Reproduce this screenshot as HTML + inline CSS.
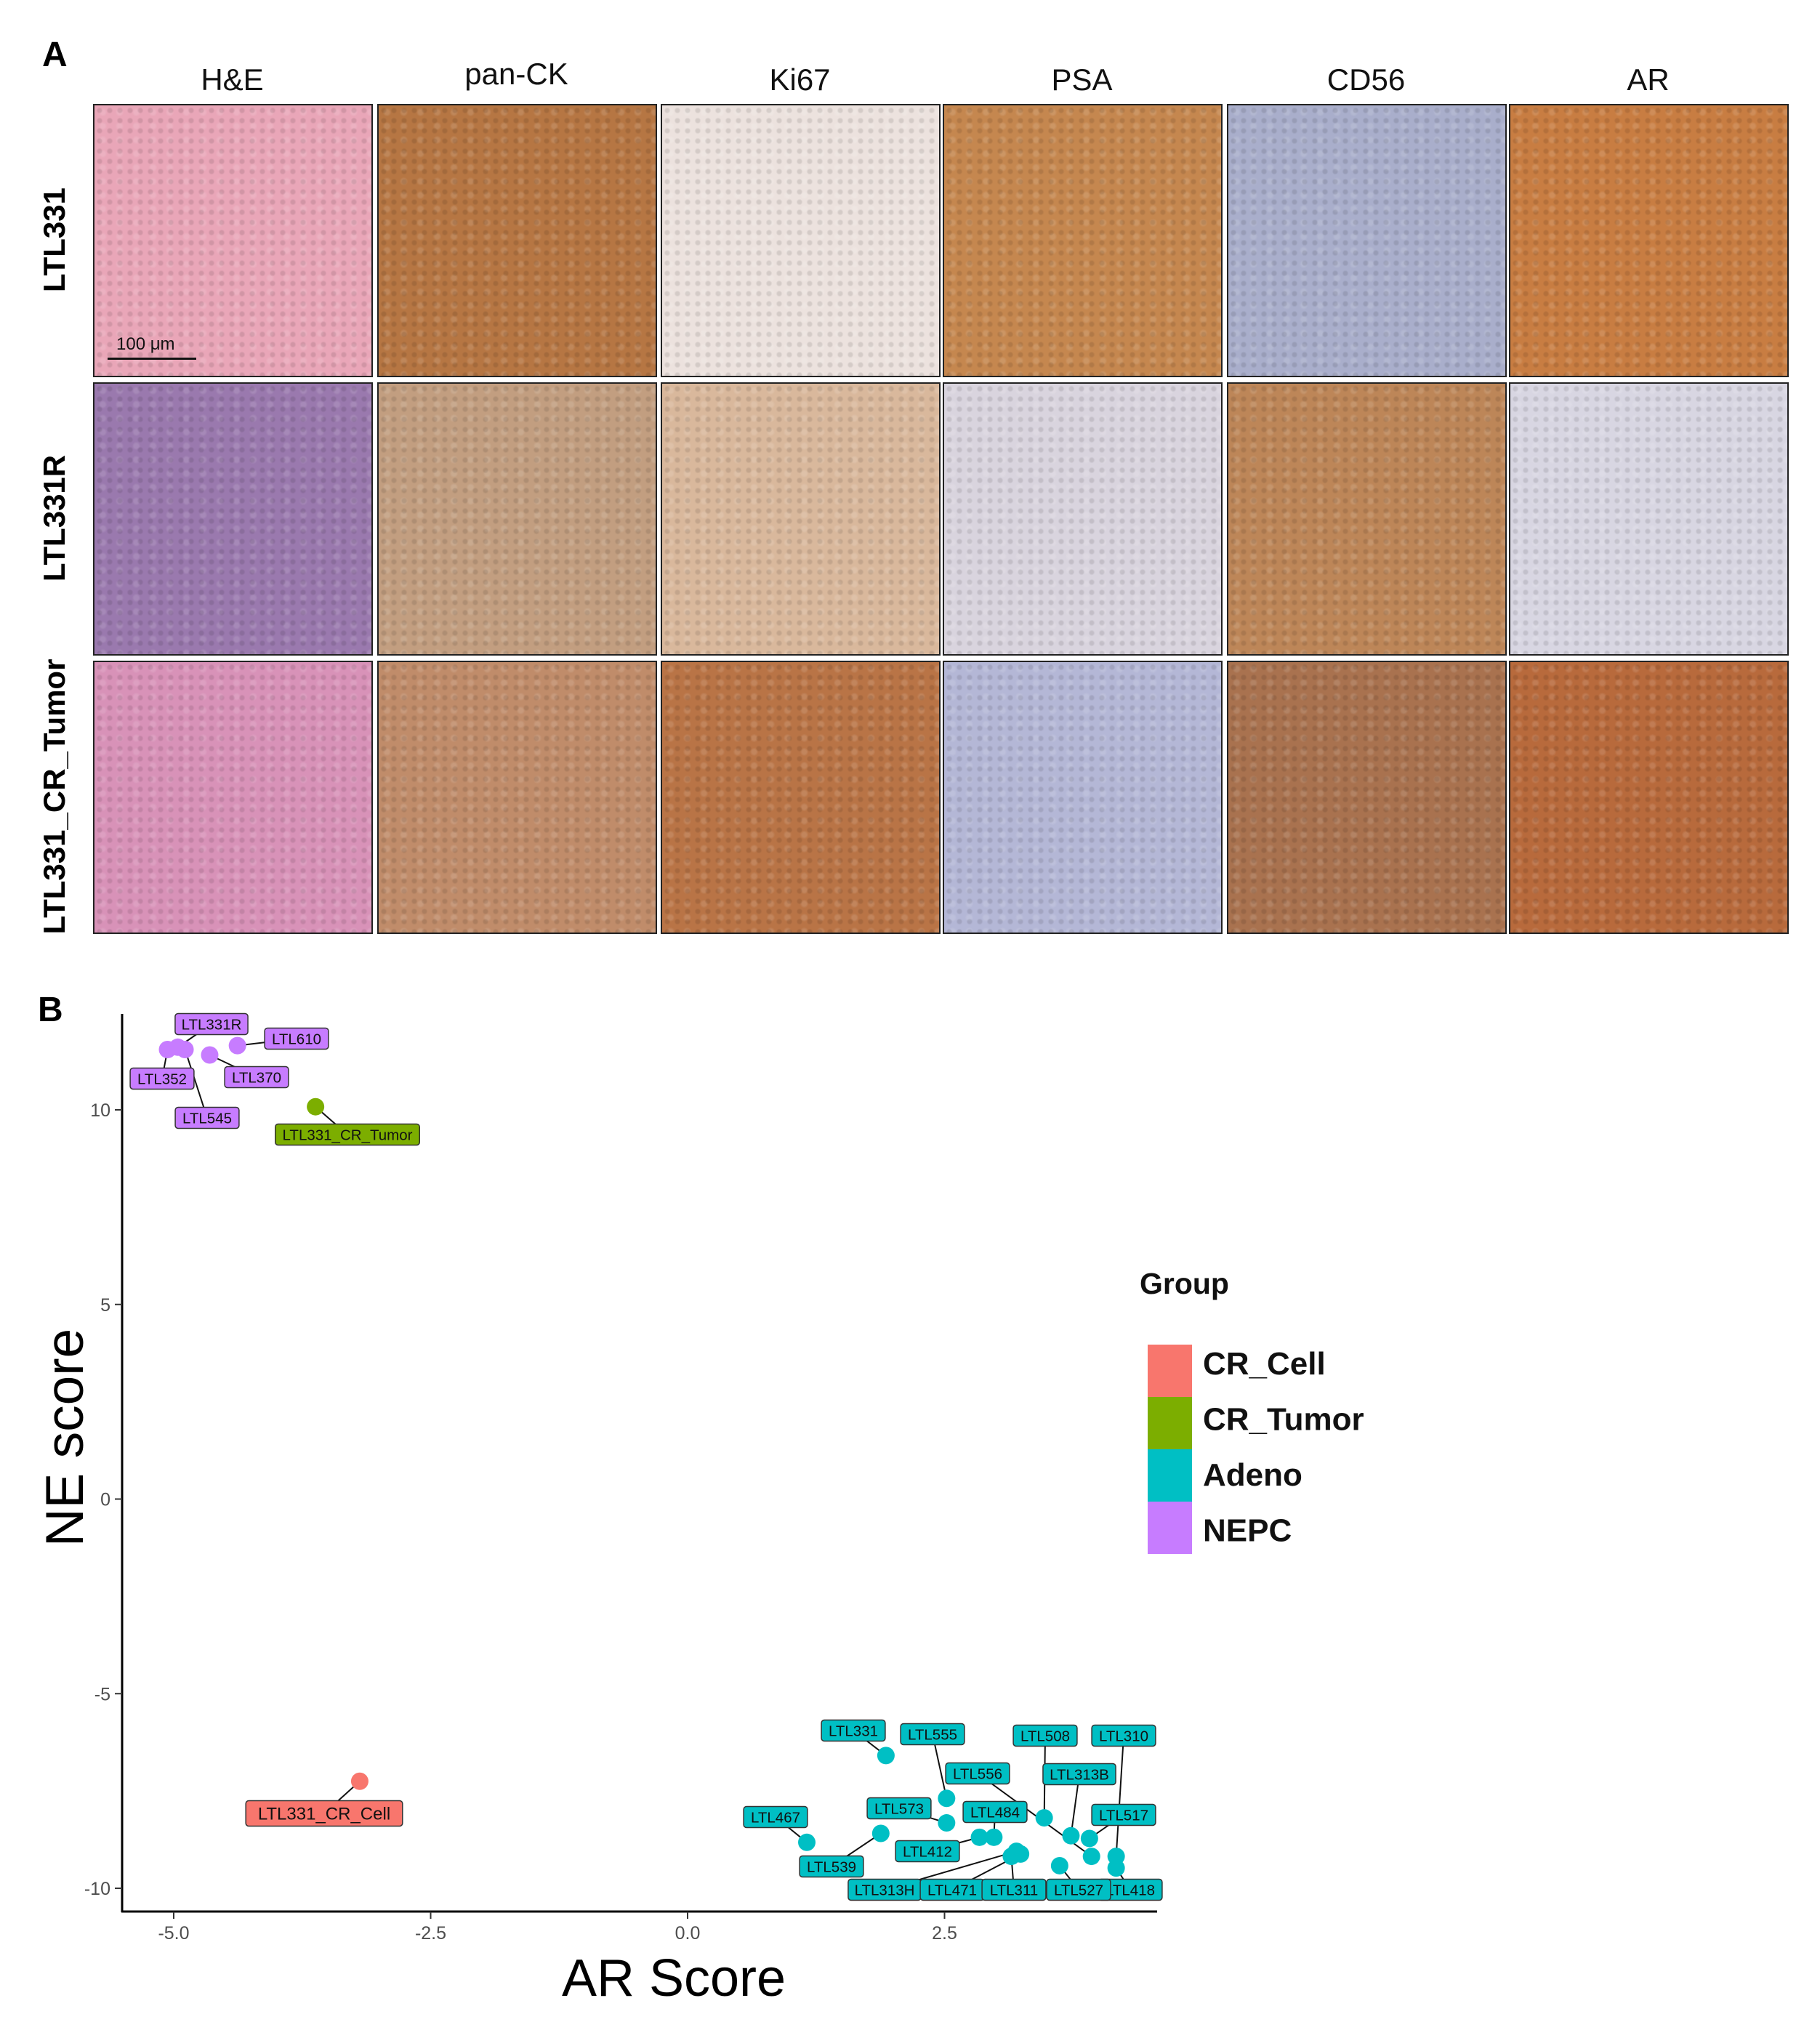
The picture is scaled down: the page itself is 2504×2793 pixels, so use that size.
<!DOCTYPE html>
<html><head><meta charset="utf-8">
<style>
body{margin:0;background:#fff;width:2504px;height:2793px;position:relative;overflow:hidden;font-family:"Liberation Sans",sans-serif}
.t{position:absolute;}
.tile{position:absolute;width:381px;height:372px;border:2px solid #222;background-size:14px 14px,23px 19px,auto}
.hdr{position:absolute;top:86px;width:383px;text-align:center;font-size:42px;color:#111}
.rl{position:absolute;font-weight:bold;font-size:42px;transform:translate(-50%,-50%) rotate(-90deg);white-space:nowrap}
</style></head><body>
<div class="t" style="left:58px;top:48px;font-size:48px;font-weight:bold">A</div>
<div class="hdr" style="left:128px">H&amp;E</div>
<div class="hdr" style="left:519px;top:78px">pan-CK</div>
<div class="hdr" style="left:909px">Ki67</div>
<div class="hdr" style="left:1297px">PSA</div>
<div class="hdr" style="left:1688px">CD56</div>
<div class="hdr" style="left:2076px">AR</div>
<div class="rl" style="left:75px;top:330px">LTL331</div>
<div class="rl" style="left:75px;top:713px">LTL331R</div>
<div class="rl" style="left:75px;top:1096px">LTL331_CR_Tumor</div>
<div id="tiles"></div>
<div class="t" style="left:148px;top:492px;width:122px;height:3px;background:#111"></div>
<div class="t" style="left:160px;top:460px;font-size:24px;color:#111">100 μm</div>
<div class="t" style="left:52px;top:1362px;font-size:48px;font-weight:bold">B</div>
<svg id="chart" width="2504" height="2793" style="position:absolute;left:0;top:0" xmlns="http://www.w3.org/2000/svg"></svg>
<script>
const tileColors=[["#e9a6b8","#b67643","#ece2de","#c5874f","#a9aecb","#c87d42"],
["#9a79ae","#c29e80","#d9b89c","#d9d4de","#bd8658","#d8d6e2"],
["#d892b8","#c08c6a","#b97446","#b4b7d6","#a9724f","#b86a3c"]];
const xs=[128,519,909,1297,1688,2076],ys=[143,526,909];
const tc=document.getElementById('tiles');
for(let r=0;r<3;r++)for(let c=0;c<6;c++){const d=document.createElement('div');d.className='tile';


d.style.left=xs[c]+'px';d.style.top=ys[r]+'px';const col=tileColors[r][c];
d.style.backgroundImage=`radial-gradient(circle, rgba(0,0,0,0.10) 25%, transparent 45%),radial-gradient(circle, rgba(255,255,255,0.12) 20%, transparent 40%),linear-gradient(${col},${col})`;
tc.appendChild(d);}

// chart data
const names=["LTL352","LTL331R","LTL545","LTL370","LTL610","LTL331_CR_Tumor","LTL331_CR_Cell","LTL331","LTL555","LTL573","LTL467","LTL539","LTL412","LTL484","LTL313H","LTL471","LTL311","LTL508","LTL313B","LTL517","LTL527","LTL556","LTL310","LTL418"];
const groups=["NEPC","NEPC","NEPC","NEPC","NEPC","CR_Tumor","CR_Cell","Adeno","Adeno","Adeno","Adeno","Adeno","Adeno","Adeno","Adeno","Adeno","Adeno","Adeno","Adeno","Adeno","Adeno","Adeno","Adeno","Adeno"];
const arScore=[-5.06,-4.96,-4.89,-4.65,-4.38,-3.62,-3.19,1.93,2.52,2.52,1.16,1.88,2.84,2.98,3.20,3.24,3.15,3.47,3.73,3.91,3.62,3.93,4.17,4.17];
const neScore=[11.55,11.61,11.55,11.41,11.65,10.08,-7.25,-6.59,-7.69,-8.32,-8.82,-8.59,-8.69,-8.69,-9.05,-9.12,-9.18,-8.19,-8.65,-8.72,-9.42,-9.18,-9.18,-9.48];
const xTicks=[-5,-2.5,0,2.5];
const xTickLabels=["-5.0","-2.5","0.0","2.5"];
const yTicks=[-10,-5,0,5,10];
const legendGroups=["CR_Cell","CR_Tumor","Adeno","NEPC"];
// label layout (pixel centers, not data)
const labelLayout=[[223,1484],[291,1409],[285,1538],[353,1482],[408,1429],[478,1561],[446,2495],[1174,2381],[1283,2386],[1237,2488],[1067,2500],[1144,2568],[1276,2547],[1369,2493],[1217,2600],[1310,2600],[1395,2600],[1438,2388],[1485,2441],[1546,2497],[1484,2600],[1345,2440],[1546,2388],[1555,2600]];
const colors={CR_Cell:"#F8766D",CR_Tumor:"#7CAE00",Adeno:"#00BFC4",NEPC:"#C77CFF"};
const X=v=>946+v*141.4, Y=v=>2062.5-v*53.55;
const svg=document.getElementById('chart');const NS="http://www.w3.org/2000/svg";
function mk(t,a){const e=document.createElementNS(NS,t);for(const k in a)e.setAttribute(k,a[k]);svg.appendChild(e);return e;}
let e;
e=mk('line',{x1:168,y1:1395,x2:168,y2:2631,stroke:'#000','stroke-width':3});


e=mk('line',{x1:167,y1:2630,x2:1592,y2:2630,stroke:'#000','stroke-width':3});


xTicks.forEach((v,i)=>{e=mk('line',{x1:X(v),y1:2630,x2:X(v),y2:2640,stroke:'#333','stroke-width':2});


e=mk('text',{x:X(v),y:2668,'text-anchor':'middle','font-size':25,fill:'#4d4d4d','font-family':'Liberation Sans'});e.textContent=xTickLabels[i];

});
yTicks.forEach(v=>{e=mk('line',{x1:158,y1:Y(v),x2:168,y2:Y(v),stroke:'#333','stroke-width':2});


e=mk('text',{x:152,y:Y(v)+9,'text-anchor':'end','font-size':25,fill:'#4d4d4d','font-family':'Liberation Sans'});e.textContent=String(v);

});
e=mk('text',{x:927,y:2746,'text-anchor':'middle','font-size':72,fill:'#000','font-family':'Liberation Sans'});e.textContent='AR Score';


e=mk('text',{x:114,y:1978,'text-anchor':'middle','font-size':73,fill:'#000','font-family':'Liberation Sans',transform:'rotate(-90 114 1978)'});e.textContent='NE score';


// connectors
names.forEach((n,i)=>{const [lx,ly]=labelLayout[i];e=mk('line',{x1:X(arScore[i]),y1:Y(neScore[i]),x2:lx,y2:ly,stroke:'#111','stroke-width':2});

});
// points
names.forEach((n,i)=>{e=mk('circle',{cx:X(arScore[i]),cy:Y(neScore[i]),r:12,fill:colors[groups[i]]});

});
const order=names.map((n,i)=>i);const i418=names.indexOf("LTL418");order.splice(order.indexOf(i418),1);order.unshift(i418);
order.forEach(i=>{const n=names[i];const big=groups[i]=="CR_Cell";const fs=big?24:20.5;const w=n.length*fs*0.6+14;const h=big?35:29;const [lx,ly]=labelLayout[i];
const g=document.createElementNS(NS,'g');svg.appendChild(g);


const r=document.createElementNS(NS,'rect');r.setAttribute('x',lx-w/2);r.setAttribute('y',ly-h/2);r.setAttribute('width',w);r.setAttribute('height',h);r.setAttribute('rx',4);r.setAttribute('fill',colors[groups[i]]);r.setAttribute('stroke','#333');r.setAttribute('stroke-width',1.5);g.appendChild(r);
const t=document.createElementNS(NS,'text');t.setAttribute('x',lx);t.setAttribute('y',ly+fs*0.36);t.setAttribute('text-anchor','middle');t.setAttribute('font-size',fs);t.setAttribute('font-family','Liberation Sans');t.setAttribute('fill','#111');t.textContent=n;g.appendChild(t);});
// legend
e=mk('text',{x:1568,y:1780,'font-size':41,'font-weight':'bold',fill:'#111','font-family':'Liberation Sans'});e.textContent='Group';


legendGroups.forEach((g,k)=>{e=mk('rect',{x:1579,y:1850+k*72,width:61,height:72,fill:colors[g]});


e=mk('text',{x:1655,y:1891+k*76.5,'font-size':44,'font-weight':'bold',fill:'#111','font-family':'Liberation Sans'});e.textContent=g;

});
</script>
</body></html>
